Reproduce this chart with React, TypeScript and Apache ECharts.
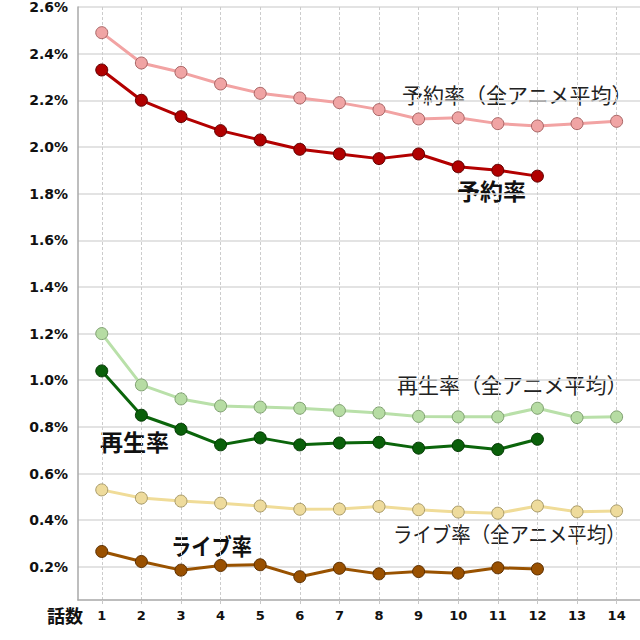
import React, { useEffect, useRef } from "react";
import * as echarts from "echarts";

const episodes = [1, 2, 3, 4, 5, 6, 7, 8, 9, 10, 11, 12, 13, 14];
const yTicks = [0.2, 0.4, 0.6, 0.8, 1.0, 1.2, 1.4, 1.6, 1.8, 2.0, 2.2, 2.4, 2.6];

const reserveAvg = [2.49, 2.36, 2.32, 2.27, 2.23, 2.21, 2.19, 2.16, 2.12, 2.125, 2.10, 2.09, 2.10, 2.11];
const reserve = [2.33, 2.20, 2.13, 2.07, 2.03, 1.99, 1.97, 1.95, 1.97, 1.915, 1.90, 1.875];
const playAvg = [1.20, 0.98, 0.92, 0.89, 0.885, 0.88, 0.87, 0.86, 0.845, 0.843, 0.843, 0.88, 0.84, 0.843];
const play = [1.04, 0.85, 0.79, 0.723, 0.753, 0.723, 0.731, 0.734, 0.709, 0.72, 0.703, 0.747];
const liveAvg = [0.53, 0.495, 0.482, 0.473, 0.461, 0.447, 0.448, 0.459, 0.445, 0.435, 0.43, 0.461, 0.436, 0.44];
const live = [0.266, 0.223, 0.186, 0.206, 0.209, 0.158, 0.194, 0.17, 0.18, 0.173, 0.196, 0.191];

const labelReserveAvg = "予約率（全アニメ平均）";
const labelReserve = "予約率";
const labelPlayAvg = "再生率（全アニメ平均）";
const labelPlay = "再生率";
const labelLiveAvg = "ライブ率（全アニメ平均）";
const labelLive = "ライブ率";
const xName = "話数";

const JP = '"Noto Sans CJK JP", "Noto Sans", sans-serif';
const LAT = '"DejaVu Sans", Verdana, sans-serif';

function mk(name: string, values: number[], line: string, fill: string, border: string, z: number) {
  return {
    name,
    type: "line",
    data: values.map((v, i) => [episodes[i], v]),
    symbol: "circle",
    symbolSize: 12,
    z,
    lineStyle: { color: line, width: 3 },
    itemStyle: { color: fill, borderColor: border, borderWidth: 1 },
  };
}

export default function App() {
  const ref = useRef<HTMLDivElement>(null);
  useEffect(() => {
    if (!ref.current) return;
    const chart = echarts.init(ref.current, undefined, { renderer: "svg" });
    chart.setOption({
      animation: false,
      backgroundColor: "#ffffff",
      grid: { left: 78, top: 5, right: 0, bottom: 40, containLabel: false },
      xAxis: {
        type: "value",
        min: 0.4,
        max: 14.59,
        axisLine: { show: true, lineStyle: { color: "#a8a8a8", width: 1.5 } },
        axisTick: { show: true, length: 4, customValues: episodes, lineStyle: { color: "#c8c8c8" } },
        axisLabel: {
          customValues: episodes,
          color: "#111",
          fontWeight: "bold",
          fontSize: 13,
          fontFamily: LAT,
          margin: 9,
        },
        splitLine: { show: true, lineStyle: { color: "#cccccc", type: [3, 2], width: 1 } },
      },
      yAxis: {
        type: "value",
        min: 0.058,
        max: 2.6,
        axisLine: { show: true, lineStyle: { color: "#a8a8a8", width: 1.5 } },
        axisTick: { show: false, customValues: yTicks },
        axisLabel: {
          customValues: yTicks,
          formatter: (v: number) => v.toFixed(1) + "%",
          color: "#111",
          fontWeight: "bold",
          fontSize: 14,
          fontFamily: LAT,
          margin: 10,
        },
        splitLine: { show: true, lineStyle: { color: "#dadada", width: 1.5 } },
      },
      series: [
        mk(labelReserveAvg, reserveAvg, "#f2a3a3", "#f0a4a4", "#a86464", 2),
        mk(labelReserve, reserve, "#b30000", "#b00000", "#600000", 3),
        mk(labelPlayAvg, playAvg, "#b9e0a9", "#b6dca3", "#7fa070", 2),
        mk(labelPlay, play, "#0b650b", "#0a600a", "#033803", 3),
        mk(labelLiveAvg, liveAvg, "#f0dc98", "#eedb9c", "#a89a68", 2),
        mk(labelLive, live, "#995200", "#995000", "#5a2e00", 3),
      ],
      graphic: [
        { type: "text", x: 402, y: 83, style: { text: labelReserveAvg, font: `21px ${JP}`, fill: "#222" } },
        { type: "text", x: 457, y: 178, style: { text: labelReserve, font: `bold 23px ${JP}`, fill: "#111" } },
        { type: "text", x: 397, y: 373, style: { text: labelPlayAvg, font: `21px ${JP}`, fill: "#222" } },
        { type: "text", x: 100, y: 429, style: { text: labelPlay, font: `bold 23px ${JP}`, fill: "#111" } },
        { type: "text", x: 393, y: 523, scaleX: 0.925, style: { text: labelLiveAvg, font: `21px ${JP}`, fill: "#222" } },
        { type: "text", x: 171, y: 533, scaleX: 0.88, style: { text: labelLive, font: `bold 23px ${JP}`, fill: "#111" } },
        { type: "text", x: 47, y: 606, style: { text: xName, font: `bold 18px ${JP}`, fill: "#111" } },
      ],
    });
    return () => chart.dispose();
  }, []);
  return (
    <div
      ref={ref}
      style={{ position: "fixed", left: 0, top: 0, width: 640, height: 640 }}
    />
  );
}
